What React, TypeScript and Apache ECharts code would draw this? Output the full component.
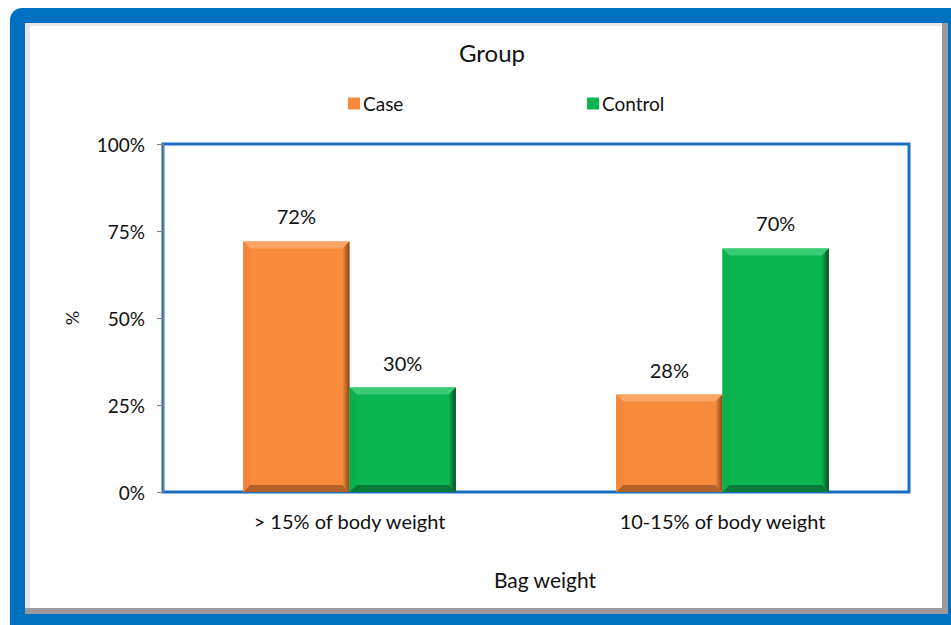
import React, { useEffect, useRef } from 'react';
import * as echarts from 'echarts';

const categories = ['> 15% of body weight', '10-15% of body weight'];
const seriesNames = ['Case', 'Control'];
const caseValues = [72, 28];
const controlValues = [30, 70];
const yMin = 0;
const yMax = 100;
const yInterval = 25;

const FONT = 'Lato, "Open Sans", sans-serif';
const TEXT = '#111111';

const palettes: Record<string, any> = {
  Case: { main: '#F78A3B', light: '#FAA565', dark: '#8A4515', bottom: '#B5612A', left: '#F3853A' },
  Control: { main: '#0BB550', light: '#3ACB76', dark: '#0A4A22', bottom: '#0A7B37', left: '#0AB04C' },
};

function makeRender(side: number, pal: any) {
  return (params: any, api: any) => {
    const idx = api.value(0);
    const v = api.value(1);
    const base = api.coord([idx, 0]);
    const top = api.coord([idx, v]);
    const band = api.size([1, 0])[0];
    const w = band * 0.285;
    const cx = base[0];
    const x0 = side === 0 ? cx - w : cx;
    const x1 = x0 + w;
    const y0 = top[1];
    const y1 = base[1];
    const b = Math.min(7, (y1 - y0) / 2, w / 2);
    return {
      type: 'group',
      children: [
        { type: 'rect', shape: { x: x0, y: y0, width: w, height: y1 - y0 }, style: { fill: pal.main } },
        {
          type: 'polygon',
          shape: { points: [[x0, y0], [x1, y0], [x1 - b, y0 + b], [x0 + b, y0 + b]] },
          style: { fill: pal.light },
        },
        {
          type: 'polygon',
          shape: { points: [[x0, y1], [x1, y1], [x1 - b, y1 - b], [x0 + b, y1 - b]] },
          style: { fill: pal.bottom },
        },
        {
          type: 'polygon',
          shape: { points: [[x0, y0], [x0 + b, y0 + b], [x0 + b, y1 - b], [x0, y1]] },
          style: { fill: pal.left },
        },
        {
          type: 'polygon',
          shape: { points: [[x1, y0], [x1 - b, y0 + b], [x1 - b, y1 - b], [x1, y1]] },
          style: {
            fill: {
              type: 'linear', x: 0, y: 0, x2: 1, y2: 0,
              colorStops: [
                { offset: 0, color: pal.main },
                { offset: 1, color: pal.dark },
              ],
            },
          },
        },
        {
          type: 'text',
          style: {
            text: v + '%',
            x: (x0 + x1) / 2,
            y: y0 - 25,
            align: 'center',
            verticalAlign: 'middle',
            fontSize: 20,
            fontFamily: FONT,
            fill: TEXT,
          },
        },
      ],
    };
  };
}

export default function App() {
  const ref = useRef<HTMLDivElement>(null);
  useEffect(() => {
    if (!ref.current) return;
    const chart = echarts.init(ref.current, undefined, { renderer: 'svg' });
    const valuesList = [caseValues, controlValues];
    const legendText = { fontFamily: FONT, fontSize: 19, color: TEXT, padding: [0, 0, 0, -2] };
    chart.setOption({
      animation: false,
      graphic: [
        { type: 'rect', z: -10, shape: { x: 10, y: 8, width: 980, height: 660, r: 12 }, style: { fill: '#0070C0' } },
        { type: 'rect', z: -9, shape: { x: 25, y: 23, width: 923, height: 591 }, style: { fill: '#9A9A9A' } },
        { type: 'rect', z: -8, shape: { x: 25, y: 23, width: 917, height: 585 }, style: { fill: '#E6E6E6' } },
        { type: 'rect', z: -7, shape: { x: 30, y: 26, width: 912, height: 582 }, style: { fill: '#FFFFFF' } },
      ],
      title: {
        text: 'Group',
        left: 487,
        top: 35,
        textAlign: 'center',
        textStyle: { fontFamily: FONT, fontSize: 24, fontWeight: 'normal', color: TEXT },
      },
      legend: [
        {
          data: [{ name: 'Case', itemStyle: { color: palettes.Case.main } }],
          left: 343,
          top: 89,
          icon: 'rect',
          itemWidth: 12,
          itemHeight: 12,
          itemGap: 5,
          textStyle: legendText,
        },
        {
          data: [{ name: 'Control', itemStyle: { color: palettes.Control.main } }],
          left: 582,
          top: 89,
          icon: 'rect',
          itemWidth: 12,
          itemHeight: 12,
          itemGap: 5,
          textStyle: legendText,
        },
      ],
      grid: {
        left: 163,
        top: 144,
        right: 42,
        bottom: 133,
        show: true,
        borderColor: '#1B6FC2',
        borderWidth: 3,
        backgroundColor: 'transparent',
      },
      xAxis: {
        type: 'category',
        data: categories,
        name: 'Bag weight',
        nameLocation: 'middle',
        nameGap: 77,
        nameTextStyle: { fontFamily: FONT, fontSize: 21, color: TEXT, padding: [0, 0, 0, 18] },
        axisLine: { show: false },
        axisTick: { show: false },
        axisLabel: { fontFamily: FONT, fontSize: 20, color: TEXT, margin: 19 },
        splitLine: { show: false },
      },
      yAxis: {
        type: 'value',
        min: yMin,
        max: yMax,
        interval: yInterval,
        name: '%',
        nameLocation: 'middle',
        nameGap: 82,
        nameTextStyle: { fontFamily: FONT, fontSize: 18, color: TEXT },
        axisLine: { show: true, lineStyle: { color: '#808080', width: 1 } },
        axisTick: { show: true, length: 6, lineStyle: { color: '#808080' } },
        axisLabel: { formatter: '{value}%', fontFamily: FONT, fontSize: 19, color: TEXT, margin: 18 },
        splitLine: { show: false },
      },
      series: seriesNames.map((name, si) => ({
        type: 'custom',
        name,
        itemStyle: { color: palettes[name].main },
        renderItem: makeRender(si, palettes[name]),
        encode: { x: 0, y: 1 },
        data: valuesList[si].map((v, i) => [i, v]),
        z: 3,
      })),
    });
    return () => chart.dispose();
  }, []);
  return (
    <div
      ref={ref}
      style={{ position: 'absolute', left: 0, top: 0, width: 951, height: 625 }}
    />
  );
}
